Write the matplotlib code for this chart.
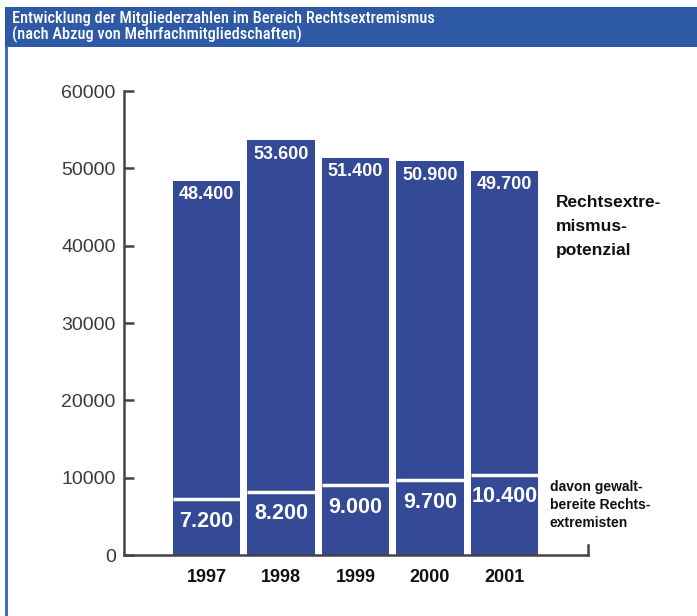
import matplotlib
matplotlib.use("Agg")
import matplotlib.pyplot as plt
from matplotlib.patches import Rectangle
from matplotlib.lines import Line2D
from matplotlib import font_manager

years = ["1997", "1998", "1999", "2000", "2001"]
total = [48400, 53600, 51400, 50900, 49700]
violent = [7200, 8200, 9000, 9700, 10400]
total_labels = ["48.400", "53.600", "51.400", "50.900", "49.700"]
violent_labels = ["7.200", "8.200", "9.000", "9.700", "10.400"]
yticks = [0, 10000, 20000, 30000, 40000, 50000, 60000]

title = "Entwicklung der Mitgliederzahlen im Bereich Rechtsextremismus\n(nach Abzug von Mehrfachmitgliedschaften)"
label_total = "Rechtsextre-\nmismus-\npotenzial"
label_violent = "davon gewalt-\nbereite Rechts-\nextremisten"

plt.rcParams['font.family'] = ['Liberation Sans', 'DejaVu Sans']

names = {f.name for f in font_manager.fontManager.ttflist}
cond = next((n for n in ['Roboto Condensed', 'Archivo Narrow', 'PT Sans Narrow', 'Liberation Sans Narrow']
             if n in names), 'Liberation Sans')

W, H = 697, 616
fig = plt.figure(figsize=(W / 100, H / 100), dpi=100)
fig.patch.set_facecolor("white")

# title bar and left border
fig.patches.append(Rectangle((5 / W, 1 - 47 / H), 1, 40 / H, transform=fig.transFigure,
                             facecolor="#2d59a5", edgecolor="none"))
fig.add_artist(Line2D([6 / W, 6 / W], [0, 1 - 47 / H], transform=fig.transFigure,
                      color="#2b62c4", lw=2))
fig.text(12 / W, 1 - 27 / H, title, color="white", family=[cond, 'DejaVu Sans'],
         fontweight="medium", fontsize=11.8, va="center", ha="left", linespacing=1.0)

bar_color = "#344a97"
left_px, right_px, bottom_px, top_px = 124, 588, 555, 91
ax = fig.add_axes([left_px / W, 1 - bottom_px / H, (right_px - left_px) / W, (bottom_px - top_px) / H])
unit = 74.5
x0 = 206.5
ax.set_xlim((left_px - x0) / unit, (right_px - x0) / unit)
ax.set_ylim(0, 60000)
xs = list(range(len(years)))

ax.bar(xs, total, width=0.9, color=bar_color, edgecolor="none", zorder=2)
for x, v in zip(xs, violent):
    ax.plot([x - 0.45, x + 0.45], [v, v], color="white", lw=2.5, zorder=4, solid_capstyle="butt")

for x, t, lab in zip(xs, total, total_labels):
    ax.annotate(lab, (x, t), xytext=(0, -10), textcoords="offset points", ha="center", va="center",
                color="white", fontsize=13, fontweight="bold", zorder=5)
for x, v, lab in zip(xs, violent, violent_labels):
    ax.annotate(lab, (x, v), xytext=(0, -16), textcoords="offset points", ha="center", va="center",
                color="white", fontsize=15.5, fontweight="bold", zorder=5)

for s in ["top", "right"]:
    ax.spines[s].set_visible(False)
for s in ["left", "bottom"]:
    ax.spines[s].set_color("#444444")
    ax.spines[s].set_linewidth(1.8)

ax.set_yticks(yticks)
ax.set_yticklabels([str(t) for t in yticks])
ax.tick_params(axis="y", direction="in", length=7, width=1.8, color="#444444",
               labelsize=14, labelcolor="#3a3a3a", pad=6)
ax.set_xticks(xs)
ax.set_xticklabels(years, fontweight="bold", fontsize=13)
ax.tick_params(axis="x", length=0, pad=10, labelcolor="#111111")

# end tick on bottom axis
ax.add_line(Line2D([1, 1], [0, 0.022], transform=ax.transAxes, color="#444444", lw=1.8, clip_on=False))

fig.text(556 / W, 1 - 227 / H, label_total, ha="left", va="center", fontsize=12.5,
         fontweight="bold", color="#111111", linespacing=1.75)
fig.text(550 / W, 1 - 505 / H, label_violent, ha="left", va="center", fontsize=10,
         fontweight="bold", color="#111111", linespacing=1.4)

fig.savefig("out.png", dpi=100, facecolor="white")
